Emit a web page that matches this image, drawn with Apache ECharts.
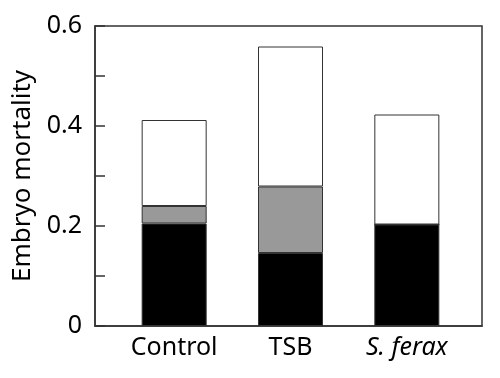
<!DOCTYPE html>
<html>
<head>
<meta charset="utf-8">
<script src="https://cdn.jsdelivr.net/npm/echarts@6/dist/echarts.min.js"></script>
<style>
  html, body { margin: 0; padding: 0; background: #fff; }
  #chart { width: 500px; height: 378px; }
</style>
</head>
<body>
<div id="chart"></div>
<script>
var categories = ['Control', 'TSB', 'S. ferax']
// stacked parts of embryo mortality, bottom to top
var blackPart = [0.205, 0.146, 0.203]
var grayPart = [0.035, 0.133, 0]
var whitePart = [0.172, 0.280, 0.220]
var yTickLabels = ['0', '0.2', '0.4', '0.6']

var myChart = echarts.init(document.getElementById('chart'))

function barSeries(name, data, color) {
  return {
    type: 'bar',
    name: name,
    stack: 'total',
    xAxisIndex: 1,
    yAxisIndex: 1,
    data: data,
    barWidth: 65,
    itemStyle: {
      color: color,
      borderColor: '#333',
      borderWidth: 1
    },
    emphasis: { disabled: true }
  }
}

var option = {
  animation: false,
  textStyle: { fontFamily: 'Noto Sans' },
  grid: [
    // frame with the y axis
    {
      left: 95,
      top: 26,
      right: 18,
      bottom: 52,
      show: true,
      borderColor: '#333',
      borderWidth: 1.5
    },
    // bars sit in a narrower band inside the frame
    {
      left: 116,
      top: 26,
      right: 35,
      bottom: 52
    }
  ],
  xAxis: [
    {
      gridIndex: 0,
      type: 'value',
      min: 0,
      max: 1,
      splitLine: { show: false },
      axisLine: { lineStyle: { color: '#333', width: 1.5 } },
      axisTick: { show: false },
      axisLabel: { show: false }
    },
    {
      gridIndex: 1,
      type: 'category',
      data: categories,
      axisLine: { show: false },
      axisTick: { show: false },
      axisLabel: {
        interval: 0,
        hideOverlap: false,
        margin: 9,
        fontSize: 25,
        color: '#000',
        formatter: function (v) {
          return v === 'S. ferax' ? '{it|' + v + '}' : v
        },
        rich: {
          it: { fontStyle: 'italic', fontSize: 25, color: '#000', fontFamily: 'Noto Sans' }
        }
      }
    }
  ],
  yAxis: [
    {
      gridIndex: 0,
      type: 'value',
      min: 0,
      max: 0.6,
      interval: 0.1,
      name: 'Embryo mortality',
      nameLocation: 'middle',
      nameGap: 56,
      nameTextStyle: { fontSize: 26, color: '#000' },
      splitLine: { show: false },
      axisLine: { show: true, lineStyle: { color: '#333', width: 1.5 } },
      axisTick: { inside: true, length: 10, lineStyle: { color: '#333', width: 1.5 } },
      axisLabel: {
        margin: 13,
        fontSize: 25,
        color: '#000',
        formatter: function (v) {
          var k = Math.round(v * 10)
          return k % 2 === 0 ? yTickLabels[k / 2] : ''
        }
      }
    },
    {
      gridIndex: 1,
      type: 'value',
      min: 0,
      max: 0.6,
      show: false
    }
  ],
  series: [
    barSeries('black', blackPart, '#000'),
    barSeries('gray', grayPart, '#999'),
    barSeries('white', whitePart, '#fff')
  ]
}

myChart.setOption(option)
</script>
</body>
</html>
